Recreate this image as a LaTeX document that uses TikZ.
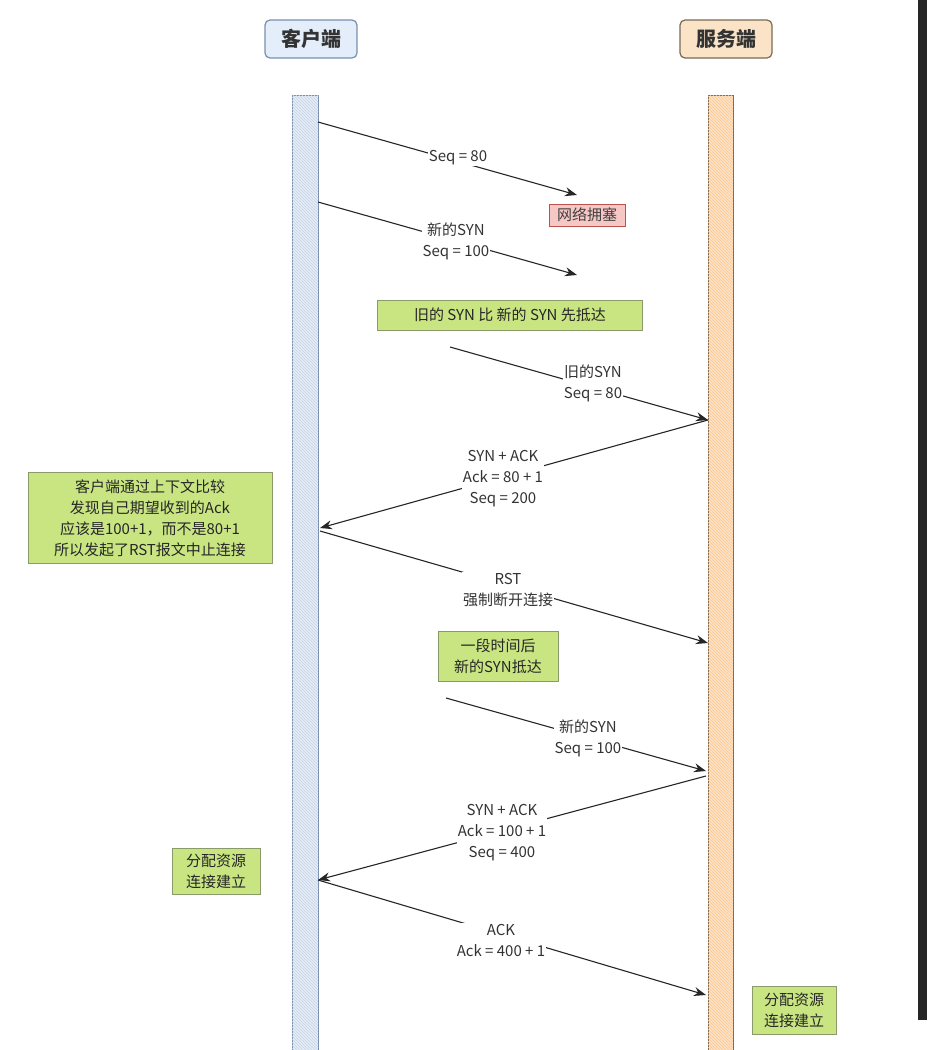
\documentclass[tikz,border=0pt]{standalone}
\usepackage{fontspec}
\setmainfont{Noto Sans CJK SC}
\usetikzlibrary{arrows.meta,patterns}
\definecolor{gfill}{HTML}{C9E582}
\definecolor{gline}{HTML}{8A9A6A}
\definecolor{pfill}{HTML}{F6C7C5}
\definecolor{pline}{HTML}{B85450}
\definecolor{bfill}{HTML}{E3EEFA}
\definecolor{bline}{HTML}{7A8FB0}
\definecolor{ofill}{HTML}{FBE3C8}
\definecolor{oline}{HTML}{7A6A55}
\tikzset{
 msg/.style={draw=black!85,line width=1.1pt,-{Stealth[length=12pt,width=9pt]}},
 lbl/.style={fill=white,inner sep=1pt,align=center,font=\fontsize{15}{21}\selectfont,text=black!80},
 gbox/.style={draw=gline,fill=gfill,line width=0.9pt,align=center,inner xsep=6pt,inner ysep=3pt,font=\fontsize{15}{21}\selectfont,text=black!85},
 pbox/.style={draw=pline,fill=pfill,line width=0.9pt,align=center,inner xsep=8pt,inner ysep=4pt,font=\fontsize{15}{18}\selectfont,text=black!75},
 head/.style={rounded corners=5pt,line width=1.2pt,minimum width=92pt,minimum height=38pt,font=\bfseries\fontsize{20}{22}\selectfont,text=black!80},
}
\begin{document}
\begin{tikzpicture}[x=1pt,y=-1pt]
\useasboundingbox (0,0) rectangle (927,1050);
\fill[white] (0,0) rectangle (927,1050);
\fill[black!85] (918,0) rectangle (927,1020);
% lifelines
\filldraw[fill=bfill,draw=bline,line width=1pt] (292,95) rectangle (318,1050);
\fill[pattern=north west lines,pattern color=bline!40] (292,95) rectangle (318,1050);
\filldraw[fill=ofill,draw=oline,line width=1pt] (708,95) rectangle (733,1050);
\fill[pattern=north west lines,pattern color=orange!45] (708,95) rectangle (733,1050);
% headers
\node[head,draw=bline,fill=bfill] (cli) at (311,39) {客户端};
\node[head,draw=oline,fill=ofill] (srv) at (726,39) {服务端};
% coordinates
\coordinate (c1) at (318,122); \coordinate (e1) at (577,195);
\coordinate (c2) at (318,202); \coordinate (e2) at (577,275);
\coordinate (s3) at (450,347); \coordinate (e3) at (708,420);
\coordinate (c4) at (320,528);
\coordinate (c5) at (320,531); \coordinate (e5) at (708,643);
\coordinate (s6) at (446,698); \coordinate (e6) at (706,771);
\coordinate (c7) at (318,880); \coordinate (s7) at (706,776);
\coordinate (e8) at (706,995);
\draw[msg] (c1) -- (e1);
\node[lbl] (l1) at (458,158) {Seq = 80};
\draw[msg] (c2) -- (e2);
\node[lbl] (l2) at (456,241) {新的SYN\\Seq = 100};
\node[pbox] (jam) at (587,215) {网络拥塞};
\node[gbox,minimum width=265pt,minimum height=30pt] (old) at (510,315) {旧的 SYN 比 新的 SYN 先抵达};
\draw[msg] (s3) -- (e3);
\node[lbl] (l3) at (593,383) {旧的SYN\\Seq = 80};
\draw[msg] (e3) -- (c4);
\node[lbl] (l4) at (503,479) {SYN + ACK\\Ack = 80 + 1\\Seq = 200};
\node[gbox,minimum width=244pt,minimum height=91pt] (cmp) at (150,518) {客户端通过上下文比较\\发现自己期望收到的Ack\\应该是100+1，而不是80+1\\所以发起了RST报文中止连接};
\draw[msg] (c5) -- (e5);
\node[lbl] (l5) at (508,590) {RST\\强制断开连接};
\node[gbox,minimum width=120pt,minimum height=50pt] (later) at (498,656) {一段时间后\\新的SYN抵达};
\draw[msg] (s6) -- (e6);
\node[lbl] (l6) at (588,738) {新的SYN\\Seq = 100};
\draw[msg] (s7) -- (c7);
\node[lbl] (l7) at (502,833) {SYN + ACK\\Ack = 100 + 1\\Seq = 400};
\node[gbox,minimum width=88pt,minimum height=46pt] (a1) at (216,871) {分配资源\\连接建立};
\draw[msg] (c7) -- (e8);
\node[lbl] (l8) at (501,940) {ACK\\Ack = 400 + 1};
\node[gbox,minimum width=84pt,minimum height=48pt] (a2) at (794,1010) {分配资源\\连接建立};
\end{tikzpicture}
\end{document}
